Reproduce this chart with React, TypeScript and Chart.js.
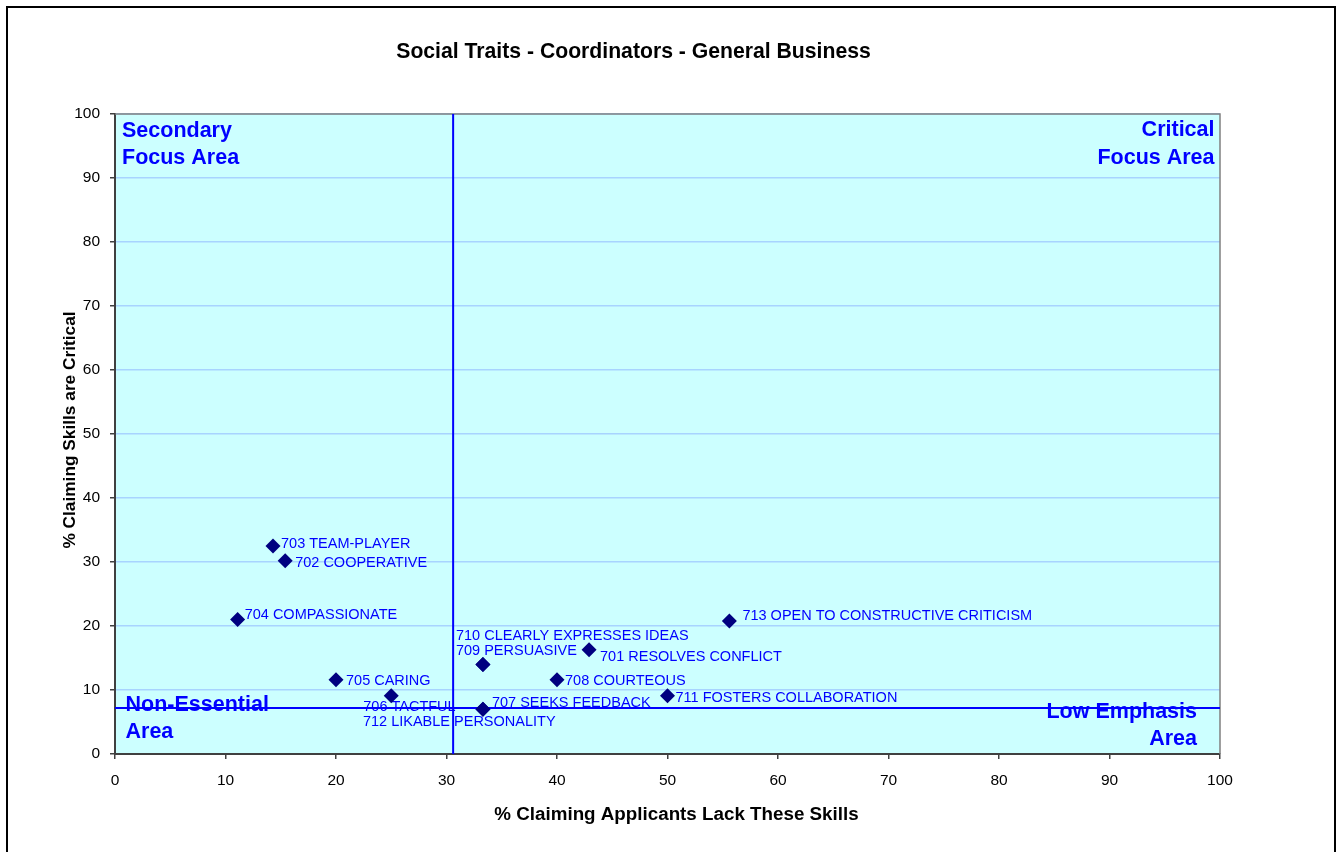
import React, { useEffect, useRef } from 'react';
import { Chart, registerables } from 'chart.js';

Chart.register(...registerables);

// ---- data ----
const skillNames = [
  '701 RESOLVES CONFLICT',
  '702 COOPERATIVE',
  '703 TEAM-PLAYER',
  '704 COMPASSIONATE',
  '705 CARING',
  '706 TACTFUL',
  '707 SEEKS FEEDBACK',
  '708 COURTEOUS',
  '709 PERSUASIVE',
  '710 CLEARLY EXPRESSES IDEAS',
  '711 FOSTERS COLLABORATION',
  '712 LIKABLE PERSONALITY',
  '713 OPEN TO CONSTRUCTIVE CRITICISM',
];
const lackPct = [42.9, 15.4, 14.3, 11.1, 20.0, 25.0, 33.3, 40.0, 33.3, 33.3, 50.0, 33.3, 55.6];
const criticalPct = [16.3, 30.2, 32.5, 21.0, 11.6, 9.1, 7.0, 11.6, 14.0, 14.0, 9.1, 7.0, 20.8];
const xTickValues = [0, 10, 20, 30, 40, 50, 60, 70, 80, 90, 100];
const yTickValues = [0, 10, 20, 30, 40, 50, 60, 70, 80, 90, 100];
const lackDivider = 30.6;
const criticalDivider = 7.2;

const chartTitle = 'Social Traits - Coordinators - General Business';
const xTitle = '% Claiming Applicants Lack These Skills';
const yTitle = '% Claiming Skills are Critical';

// label placement (pixel offsets from point: text left, baseline)
const labelOffsets: [number, number][] = [
  [11, 11], [10, 6], [8, 2], [7, -1], [10, 5], [-28, 15], [9, -2],
  [8, 5], [-27, -9], [-27, -24], [8, 6], [-120, 17], [13, -1],
];

const FONT = '"Liberation Sans", Arial, sans-serif';
const BLUE = '#0000FF';

const decorPlugin = {
  id: 'decor',
  beforeDraw(chart: any) {
    const { ctx, chartArea: a } = chart;
    ctx.save();
    ctx.fillStyle = '#FFFFFF';
    ctx.fillRect(0, 0, chart.width, chart.height);
    ctx.fillStyle = '#CCFFFF';
    ctx.fillRect(a.left, a.top, a.right - a.left, a.bottom - a.top);
    ctx.strokeStyle = '#000000';
    ctx.lineWidth = 2;
    ctx.strokeRect(7, 7, 1328, 900);
    ctx.restore();
  },
  beforeDatasetsDraw(chart: any) {
    const { ctx, chartArea: a, scales } = chart;
    const xs = scales.x;
    const ys = scales.y;
    ctx.save();
    // plot border top/right
    ctx.strokeStyle = '#808080';
    ctx.lineWidth = 1.5;
    ctx.beginPath();
    ctx.moveTo(a.left, a.top);
    ctx.lineTo(a.right, a.top);
    ctx.lineTo(a.right, a.bottom);
    ctx.stroke();

    // quadrant labels
    ctx.fillStyle = BLUE;
    ctx.font = `bold 21.5px ${FONT}`;
    ctx.textBaseline = 'alphabetic';
    ctx.textAlign = 'left';
    ctx.fillText('Secondary', 122, 137);
    ctx.fillText('Focus Area', 122, 163.5);
    ctx.fillText('Non-Essential', 125.5, 711);
    ctx.fillText('Area', 125.5, 738);
    ctx.textAlign = 'right';
    ctx.fillText('Critical', 1214.5, 136);
    ctx.fillText('Focus Area', 1214.5, 163.5);
    ctx.fillText('Low Emphasis', 1197, 717.5);
    ctx.fillText('Area', 1197, 745);

    // data labels
    ctx.font = `14.5px ${FONT}`;
    ctx.textAlign = 'left';
    skillNames.forEach((name, i) => {
      const px = xs.getPixelForValue(lackPct[i]);
      const py = ys.getPixelForValue(criticalPct[i]);
      const [dx, dy] = labelOffsets[i];
      ctx.fillText(name, px + dx, py + dy);
    });

    // divider lines
    ctx.strokeStyle = BLUE;
    ctx.lineWidth = 2;
    const vx = xs.getPixelForValue(lackDivider);
    const hy = ys.getPixelForValue(criticalDivider);
    ctx.beginPath();
    ctx.moveTo(vx, a.top);
    ctx.lineTo(vx, a.bottom);
    ctx.moveTo(a.left, hy);
    ctx.lineTo(a.right, hy);
    ctx.stroke();
    ctx.restore();
  },
  afterDraw(chart: any) {
    const { ctx } = chart;
    ctx.save();
    ctx.fillStyle = '#000000';
    ctx.textAlign = 'center';
    ctx.textBaseline = 'alphabetic';
    ctx.font = `bold 21.2px ${FONT}`;
    ctx.fillText(chartTitle, 633.5, 57.5);
    ctx.font = `bold 18.8px ${FONT}`;
    ctx.fillText(xTitle, 676.5, 820);
    ctx.translate(75, 430);
    ctx.rotate(-Math.PI / 2);
    ctx.font = `bold 17.3px ${FONT}`;
    ctx.fillText(yTitle, 0, 0);
    ctx.restore();
  },
};

export default function App() {
  const ref = useRef<HTMLCanvasElement | null>(null);

  useEffect(() => {
    document.body.style.margin = '0';
    const canvas = ref.current;
    if (!canvas) return;
    const points = lackPct.map((x, i) => ({ x, y: criticalPct[i] }));
    const chart = new Chart(canvas, {
      type: 'scatter',
      data: {
        datasets: [
          {
            label: 'Skills',
            data: points,
            pointStyle: 'rectRot',
            pointRadius: 7.5,
            pointHoverRadius: 7.5,
            backgroundColor: '#000080',
            borderColor: '#000080',
            borderWidth: 0,
          },
        ],
      },
      options: {
        responsive: false,
        animation: false,
        devicePixelRatio: 1,
        events: [],
        layout: { padding: { left: 65, right: 123, top: 114, bottom: 58 } },
        plugins: {
          legend: { display: false },
          tooltip: { enabled: false },
          title: { display: false },
        },
        scales: {
          x: {
            type: 'linear',
            min: 0,
            max: 100,
            afterFit: (s: any) => { s.height = 40; },
            afterBuildTicks: (s: any) => { s.ticks = xTickValues.map((v) => ({ value: v })); },
            ticks: {
              color: '#000000',
              font: { family: FONT, size: 15.5 },
              padding: 12,
              maxRotation: 0,
              autoSkip: false,
            },
            grid: {
              drawOnChartArea: false,
              drawTicks: true,
              tickLength: 5,
              tickColor: '#404040',
              lineWidth: 1.5,
            },
            border: { display: true, color: '#404040', width: 2 },
          },
          y: {
            type: 'linear',
            min: 0,
            max: 100,
            afterFit: (s: any) => { s.width = 50; },
            afterBuildTicks: (s: any) => { s.ticks = yTickValues.map((v) => ({ value: v })); },
            ticks: {
              color: '#000000',
              font: { family: FONT, size: 15.5 },
              padding: 10,
              autoSkip: false,
            },
            grid: {
              color: '#A8D4FF',
              lineWidth: 1.5,
              drawTicks: true,
              tickLength: 5,
              tickColor: '#404040',
            },
            border: { display: true, color: '#404040', width: 2 },
          },
        },
      },
      plugins: [decorPlugin],
    } as any);
    return () => chart.destroy();
  }, []);

  return <canvas ref={ref} width={1343} height={852} style={{ display: 'block' }} />;
}
